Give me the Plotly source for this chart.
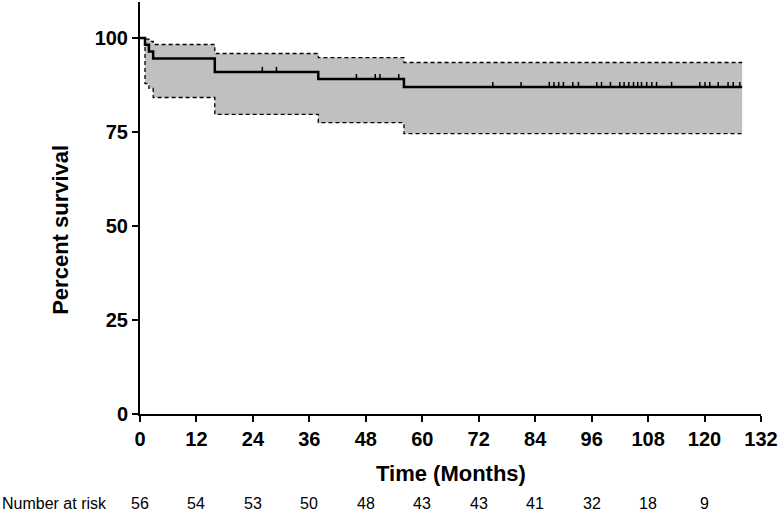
import plotly.graph_objects as go
import numpy as np

# Kaplan-Meier estimate
times = [0, 1.06, 1.9, 2.8, 15.9, 37.9, 56.1, 128]
surv = [100, 98.2, 96.4, 94.6, 91.0, 89.1, 87.0, 87.0]
upper = [100, 99.7, 99.1, 98.3, 95.9, 94.8, 93.5, 93.5]
lower = [100, 87.9, 86.6, 84.2, 79.7, 77.5, 74.6, 74.6]

# censored observation times (months)
censored = [26, 29, 46, 50, 51, 55, 75, 81, 87, 88, 89, 90, 92, 93.2, 97.1, 98.1,
            100, 102, 102.9, 103.9, 104.9, 105.8, 106.6, 107.7, 108.8, 109.8, 113,
            119, 120.1, 121.1, 122.9, 125, 126.1, 127.5]

risk_times = [0, 12, 24, 36, 48, 60, 72, 84, 96, 108, 120]
at_risk = [56, 54, 53, 50, 48, 43, 43, 41, 32, 18, 9]

x_ticks = list(range(0, 133, 12))
y_ticks = [0, 25, 50, 75, 100]

FONT = "Liberation Sans, Arial, sans-serif"
PLOT_H = 412  # plot area height in px

def step_value(t):
    idx = np.searchsorted(times, t, side="right") - 1
    return surv[idx]

cens_y = [step_value(t) + 0.6 for t in censored]

fig = go.Figure()
fig.add_trace(go.Scatter(x=times, y=upper, mode="lines", line_shape="hv",
                         line=dict(color="black", width=1.3, dash="4px,3px"),
                         showlegend=False, hoverinfo="skip"))
fig.add_trace(go.Scatter(x=times, y=lower, mode="lines", line_shape="hv",
                         line=dict(color="black", width=1.3, dash="4px,3px"),
                         fill="tonexty", fillcolor="#c0c0c0",
                         showlegend=False, hoverinfo="skip"))
fig.add_trace(go.Scatter(x=times, y=surv, mode="lines", line_shape="hv",
                         line=dict(color="black", width=2.5),
                         showlegend=False))
fig.add_trace(go.Scatter(x=censored, y=cens_y, mode="markers",
                         marker=dict(symbol="line-ns", size=4,
                                     line=dict(color="black", width=1.5)),
                         showlegend=False))

annotations = []
annotations.append(dict(text="Number at risk", xref="paper", yref="paper",
                        x=-140/621, y=-90/PLOT_H, xanchor="left", yanchor="middle",
                        showarrow=False, font=dict(size=16, color="black", family=FONT)))
for t, n in zip(risk_times, at_risk):
    annotations.append(dict(text=str(n), x=t, xref="x", yref="paper", y=-90/PLOT_H,
                            xanchor="center", yanchor="middle", showarrow=False,
                            font=dict(size=16, color="black", family=FONT)))
annotations.append(dict(text="Percent survival", xref="paper", yref="y",
                        x=-79/621, y=49, textangle=-90, showarrow=False,
                        xanchor="center", yanchor="middle",
                        font=dict(size=22, color="black", family=FONT, weight="bold")))
annotations.append(dict(text="Time (Months)", xref="paper", yref="paper",
                        x=0.5, y=-59/PLOT_H, showarrow=False,
                        xanchor="center", yanchor="middle",
                        font=dict(size=22, color="black", family=FONT, weight="bold")))

fig.update_layout(
    width=780, height=512,
    margin=dict(l=140, r=19, t=2, b=98),
    plot_bgcolor="white", paper_bgcolor="white",
    annotations=annotations,
    hovermode=False,
    xaxis=dict(range=[0, 132], tickvals=x_ticks, showgrid=False, zeroline=False,
               showline=True, linecolor="black", linewidth=2,
               ticks="outside", ticklen=6, tickwidth=2, tickcolor="black",
               tickfont=dict(size=20, color="black", family=FONT, weight="bold")),
    yaxis=dict(range=[0, 109.6], tickvals=y_ticks, showgrid=False, zeroline=False,
               showline=True, linecolor="black", linewidth=2,
               ticks="outside", ticklen=6, tickwidth=2, tickcolor="black",
               tickfont=dict(size=20, color="black", family=FONT, weight="bold")),
)

fig.write_html("out.html", config={"displayModeBar": False},
               post_script="document.body.style.margin='0';")
